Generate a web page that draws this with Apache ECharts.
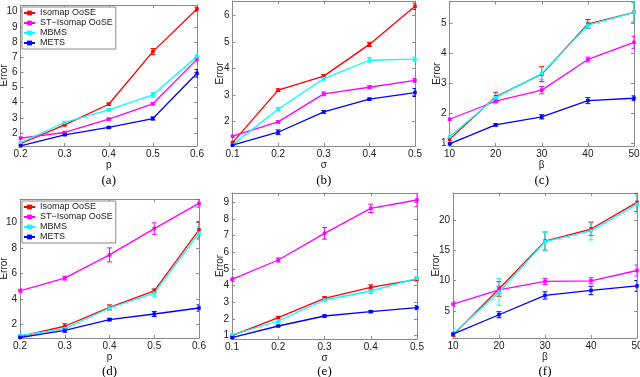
<!DOCTYPE html>
<html>
<head>
<meta charset="utf-8">
<script src="https://cdn.jsdelivr.net/npm/echarts@6/dist/echarts.min.js"></script>
<style>
  html, body { margin: 0; padding: 0; background: #fff; }
  #chart { width: 640px; height: 377px; }
</style>
</head>
<body>
<div id="chart"></div>
<script>
// methods, drawn in this order (later ones on top)
const methods = ['Isomap OoSE', 'ST−Isomap OoSE', 'MBMS', 'METS'];
const colors = ['#ff0000', '#ff00ff', '#00ffff', '#0000ff'];

// x positions
const pValues = [0.2, 0.3, 0.4, 0.5, 0.6];
const sigmaValues = [0.1, 0.2, 0.3, 0.4, 0.5];
const betaValues = [10, 20, 30, 40, 50];

// (a) error vs p
const aMean = [
  [1.30, 2.54, 3.90, 7.37, 10.18],
  [1.67, 2.04, 2.92, 3.93, 6.86],
  [1.38, 2.70, 3.53, 4.52, 7.04],
  [1.16, 1.89, 2.37, 2.96, 5.94]
];
const aErr = [
  [0.05, 0.06, 0.08, 0.20, 0.12],
  [0.05, 0.05, 0.06, 0.08, 0.10],
  [0.04, 0.06, 0.08, 0.15, 0.12],
  [0.04, 0.05, 0.05, 0.10, 0.25]
];
const aYTicks = [2, 3, 4, 5, 6, 7, 8, 9, 10];

// (b) error vs sigma
const bMean = [
  [1.20, 3.18, 3.71, 4.91, 6.35],
  [1.44, 1.98, 3.04, 3.29, 3.55],
  [1.12, 2.46, 3.62, 4.31, 4.35],
  [1.10, 1.59, 2.36, 2.84, 3.09]
];
const bErr = [
  [0.04, 0.05, 0.06, 0.08, 0.12],
  [0.03, 0.04, 0.07, 0.06, 0.07],
  [0.03, 0.06, 0.06, 0.10, 0.08],
  [0.03, 0.09, 0.05, 0.04, 0.15]
];
const bYTicks = [2, 3, 4, 5, 6];

// (c) error vs beta
const cMean = [
  [1.13, 2.55, 3.30, 4.97, 5.36],
  [1.80, 2.40, 2.77, 3.79, 4.36],
  [1.22, 2.52, 3.32, 4.93, 5.36],
  [0.98, 1.61, 1.88, 2.42, 2.50]
];
const cErr = [
  [0.05, 0.15, 0.25, 0.15, 0.32],
  [0.03, 0.05, 0.12, 0.08, 0.20],
  [0.08, 0.12, 0.20, 0.10, 0.32],
  [0.03, 0.04, 0.07, 0.10, 0.08]
];
const cYTicks = [1, 2, 3, 4, 5];

// (d) error vs p
const dMean = [
  [1.09, 1.88, 3.36, 4.66, 9.43],
  [4.66, 5.65, 7.47, 9.53, 11.51],
  [1.15, 1.69, 3.31, 4.48, 9.17],
  [1.00, 1.56, 2.40, 2.84, 3.31]
];
const dErr = [
  [0.05, 0.20, 0.20, 0.15, 0.65],
  [0.15, 0.15, 0.55, 0.45, 0.30],
  [0.05, 0.15, 0.15, 0.30, 0.50],
  [0.05, 0.15, 0.10, 0.20, 0.25]
];
const dYTicks = [2, 4, 6, 8, 10];

// (e) error vs sigma
const eMean = [
  [1.00, 2.08, 3.24, 3.90, 4.38],
  [4.38, 5.54, 7.14, 8.64, 9.14],
  [1.04, 1.88, 3.14, 3.68, 4.44],
  [0.88, 1.58, 2.18, 2.44, 2.68]
];
const eErr = [
  [0.05, 0.08, 0.10, 0.15, 0.10],
  [0.12, 0.12, 0.35, 0.25, 0.40],
  [0.05, 0.10, 0.10, 0.15, 0.10],
  [0.04, 0.04, 0.06, 0.06, 0.12]
];
const eYTicks = [1, 2, 3, 4, 5, 6, 7, 8, 9];

// (f) error vs beta
const fMean = [
  [1.0, 8.6, 16.5, 18.5, 22.9],
  [6.1, 8.46, 9.84, 9.95, 11.65],
  [1.15, 8.1, 16.4, 18.2, 22.6],
  [1.15, 4.34, 7.53, 8.35, 9.1]
];
const fErr = [
  [0.3, 1.2, 1.5, 1.1, 1.5],
  [0.4, 0.6, 0.5, 0.5, 0.9],
  [1.0, 2.2, 1.5, 1.5, 1.5],
  [0.3, 0.5, 0.6, 0.7, 0.9]
];
const fYTicks = [5, 10, 15, 20];

// panel layout: grid box, axis extents, gap of the "Error" label
const panels = [
  { x: pValues, mean: aMean, err: aErr, yTicks: aYTicks, xMin: 0.2, xMax: 0.6, yMin: 1.15, yMax: 10.44, xName: 'p', caption: '(a)', box: [20.5, 5, 176.5, 141], capY: 181, nameGap: 11.5 },
  { x: sigmaValues, mean: bMean, err: bErr, yTicks: bYTicks, xMin: 0.1, xMax: 0.5, yMin: 1.07, yMax: 6.55, xName: 'σ', caption: '(b)', box: [232.5, 1, 182.5, 145], capY: 181, nameGap: 7.5 },
  { x: betaValues, mean: cMean, err: cErr, yTicks: cYTicks, xMin: 10, xMax: 50, yMin: 0.91, yMax: 5.72, xName: 'β', caption: '(c)', box: [449.5, 1.5, 184.5, 144.5], capY: 181, nameGap: 7.5 },
  { x: pValues, mean: dMean, err: dErr, yTicks: dYTicks, xMin: 0.2, xMax: 0.6, yMin: 0.96, yMax: 11.85, xName: 'p', caption: '(d)', box: [20, 199, 179, 139], capY: 372, nameGap: 11 },
  { x: sigmaValues, mean: eMean, err: eErr, yTicks: eYTicks, xMin: 0.1, xMax: 0.5, yMin: 0.8, yMax: 9.56, xName: 'σ', caption: '(e)', box: [232, 193, 185, 146], capY: 372, nameGap: 7 },
  { x: betaValues, mean: fMean, err: fErr, yTicks: fYTicks, xMin: 10, xMax: 50, yMin: 0.5, yMax: 24.45, xName: 'β', caption: '(f)', box: [453, 193, 184, 145], capY: 372, nameGap: 12 }
];

const boxColor = '#8a8a8a';
const textColor = '#222';
const font = 'Liberation Sans';

// vertical error bar with caps
function errorBar(params, api) {
  const x = api.value(0);
  const lo = api.coord([x, api.value(1)]);
  const hi = api.coord([x, api.value(2)]);
  const w = 2.5;
  const style = { stroke: api.visual('color'), lineWidth: 1 };
  return {
    type: 'group',
    children: [
      { type: 'line', shape: { x1: lo[0], y1: lo[1], x2: hi[0], y2: hi[1] }, style },
      { type: 'line', shape: { x1: lo[0] - w, y1: lo[1], x2: lo[0] + w, y2: lo[1] }, style },
      { type: 'line', shape: { x1: hi[0] - w, y1: hi[1], x2: hi[0] + w, y2: hi[1] }, style }
    ]
  };
}

const grid = [], xAxis = [], yAxis = [], lines = [], bars = [], graphic = [];

panels.forEach((p, i) => {
  const [left, top, width, height] = p.box;
  // keep the boxes exactly where they are, labels may reach the edge
  grid.push({ left, top, width, height, containLabel: false, outerBoundsMode: 'none' });

  const tick = (values) => ({ show: true, inside: true, length: 3, lineStyle: { color: boxColor }, customValues: values });
  const line = { show: true, onZero: false, lineStyle: { color: boxColor, width: 1 } };
  const nameStyle = { fontSize: 10, fontFamily: font, color: textColor };

  xAxis.push({
    type: 'value', gridIndex: i, position: 'bottom', min: p.xMin, max: p.xMax,
    axisLine: line, axisTick: tick(p.x), splitLine: { show: false },
    axisLabel: { customValues: p.x, margin: 3, fontSize: 10, fontFamily: font, color: textColor },
    name: p.xName, nameLocation: 'middle', nameGap: 14, nameMoveOverlap: false, nameTextStyle: nameStyle
  });
  xAxis.push({
    type: 'value', gridIndex: i, position: 'top', min: p.xMin, max: p.xMax,
    axisLine: line, axisTick: tick(p.x), splitLine: { show: false },
    axisLabel: { show: false }
  });
  yAxis.push({
    type: 'value', gridIndex: i, position: 'left', min: p.yMin, max: p.yMax,
    axisLine: line, axisTick: tick(p.yTicks), splitLine: { show: false },
    axisLabel: { customValues: p.yTicks, margin: 3, fontSize: 10, fontFamily: font, color: textColor },
    name: 'Error', nameLocation: 'middle', nameGap: p.nameGap, nameMoveOverlap: false, nameTextStyle: nameStyle
  });
  yAxis.push({
    type: 'value', gridIndex: i, position: 'right', min: p.yMin, max: p.yMax,
    axisLine: line, axisTick: tick(p.yTicks), splitLine: { show: false },
    axisLabel: { show: false }
  });

  methods.forEach((name, k) => {
    lines.push({
      type: 'line', name, xAxisIndex: 2 * i, yAxisIndex: 2 * i,
      data: p.x.map((x, j) => [x, p.mean[k][j]]),
      color: colors[k], lineStyle: { width: 1.3 },
      symbol: 'rect', symbolSize: 3.5, animation: false
    });
    bars.push({
      type: 'custom', xAxisIndex: 2 * i, yAxisIndex: 2 * i, clip: true,
      itemStyle: { color: colors[k] }, renderItem: errorBar,
      data: p.x.map((x, j) => [x, p.mean[k][j] - p.err[k][j], p.mean[k][j] + p.err[k][j]]),
      animation: false, silent: true
    });
  });

  graphic.push({
    type: 'text', x: left + width / 2, y: p.capY,
    style: { text: p.caption, align: 'center', verticalAlign: 'middle', font: '13px "Liberation Serif"', fill: '#000' }
  });
});

const legendBase = {
  orient: 'vertical', data: methods, itemGap: 0, itemWidth: 11, itemHeight: 6,
  padding: [1, 3, 1, 1], borderColor: boxColor, borderWidth: 1, backgroundColor: '#fff',
  textStyle: { fontSize: 9, fontFamily: font, color: textColor, lineHeight: 10 },
  selectedMode: false
};

const chart = echarts.init(document.getElementById('chart'));
chart.setOption({
  animation: false,
  backgroundColor: '#fff',
  grid, xAxis, yAxis,
  legend: [
    Object.assign({ left: 22, top: 7 }, legendBase),
    Object.assign({ left: 22, top: 201 }, legendBase)
  ],
  series: lines.concat(bars),
  graphic
});
</script>
</body>
</html>
